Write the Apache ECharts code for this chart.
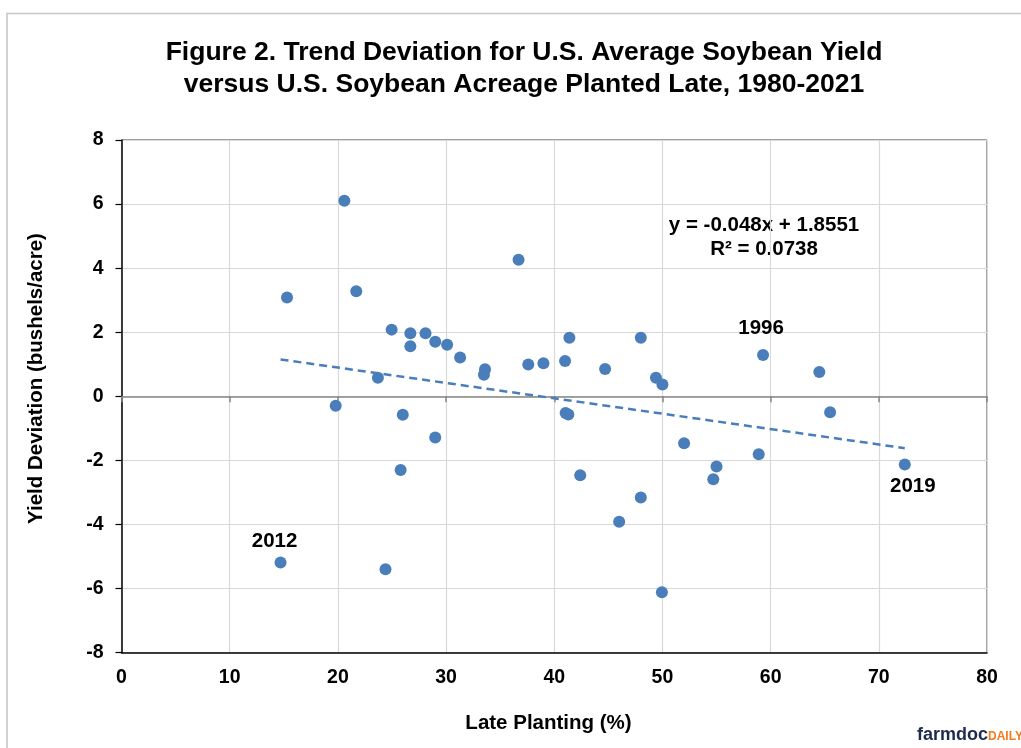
<!DOCTYPE html>
<html>
<head>
<meta charset="utf-8">
<script src="https://cdn.jsdelivr.net/npm/echarts@6/dist/echarts.min.js"></script>
<style>
  html, body { margin: 0; padding: 0; background: #fff; }
  #chart { width: 1021px; height: 748px; }
</style>
</head>
<body>
<div id="chart"></div>
<script>
// late planted share (%) and yield deviation from trend (bu/acre), 1980-2021
// first three points are the labelled years
const yearTags = ['2012', '1996', '2019'];
const lateX = [
  14.7, 59.3, 72.4,
  15.3, 19.8, 20.6, 21.7, 23.7, 24.4, 24.97, 25.8, 26.0, 26.7, 26.7,
  28.1, 29.0, 29.0, 30.1, 31.3, 33.5, 33.6, 36.7, 37.6, 39.0, 41.0,
  41.05, 41.3, 41.4, 42.4, 44.7, 46.0, 48.0, 48.0, 49.4, 49.95, 50.0,
  52.0, 54.7, 55.0, 58.9, 64.5, 65.5
];
const yieldDev = [
  -5.19, 1.29, -2.13,
  3.08, -0.30, 6.10, 3.28, 0.58, -5.40, 2.08, -2.30, -0.58, 1.97, 1.56,
  1.97, 1.70, -1.29, 1.61, 1.21, 0.67, 0.84, 4.26, 0.99, 1.03, 1.10,
  -0.52, -0.57, 1.83, -2.47, 0.85, -3.92, 1.83, -3.16, 0.58, -6.12, 0.37,
  -1.47, -2.59, -2.19, -1.81, 0.76, -0.50
];
// fitted trend end points: y = -0.048x + 1.8551
const trendX = [14.7, 72.4];
const trendY = [1.15, -1.62];

const blue = '#4a7ebb';
const font = '"Liberation Sans", Arial, sans-serif';
const tagOffsets = [[-6, -21], [-2, -27], [8, 22]];

const points = lateX.map((x, i) => {
  const item = { value: [x, yieldDev[i]] };
  if (i < yearTags.length) {
    item.label = {
      show: true,
      position: 'inside',
      offset: tagOffsets[i],
      formatter: yearTags[i],
      color: '#000',
      fontSize: 20.5,
      fontWeight: 'bold',
      fontFamily: font
    };
  }
  return item;
});

const chart = echarts.init(document.getElementById('chart'));
chart.setOption({
  animation: false,
  backgroundColor: '#fff',
  textStyle: { fontFamily: font },
  title: {
    text: 'Figure 2. Trend Deviation for U.S. Average Soybean Yield\nversus U.S. Soybean Acreage Planted Late, 1980-2021',
    left: 519,
    textAlign: 'center',
    top: 32,
    textStyle: { fontSize: 26.5, fontWeight: 'bold', color: '#000', lineHeight: 32, fontFamily: font }
  },
  grid: {
    left: 121.5, right: 34, top: 140, bottom: 95.5,
    show: true, borderColor: '#404040', borderWidth: 1
  },
  xAxis: [
    {
      type: 'value', min: 0, max: 80, interval: 10, position: 'bottom',
      axisLine: { onZero: false, lineStyle: { color: '#000', width: 1.5 } },
      axisTick: { show: false },
      axisLabel: { fontSize: 19.5, fontWeight: 'bold', color: '#000', margin: 15 },
      splitLine: { show: true, lineStyle: { color: '#d9d9d9', width: 1.2 } }
    },
    {
      type: 'value', min: 0, max: 80, interval: 10, position: 'top',
      axisLine: { onZero: true, lineStyle: { color: '#868686', width: 1.5 } },
      axisTick: { show: true, inside: true, length: 6, lineStyle: { color: '#868686', width: 1.5 } },
      axisLabel: { show: false },
      splitLine: { show: false }
    }
  ],
  yAxis: {
    type: 'value', min: -8, max: 8, interval: 2,
    axisLine: { show: true, onZero: false, lineStyle: { color: '#000', width: 1.5 } },
    axisTick: { show: true, length: 6, lineStyle: { color: '#000', width: 1.2 } },
    axisLabel: { fontSize: 19.5, fontWeight: 'bold', color: '#000', margin: 18 },
    splitLine: { show: true, lineStyle: { color: '#d9d9d9', width: 1.2 } }
  },
  series: [
    {
      type: 'line',
      data: trendX.map((x, i) => [x, trendY[i]]),
      symbol: 'none',
      silent: true,
      z: 2,
      lineStyle: { color: blue, width: 2.5, type: [8, 5] }
    },
    {
      type: 'scatter',
      data: points,
      symbolSize: 12,
      z: 3,
      itemStyle: { color: blue, opacity: 1 }
    }
  ],
  graphic: [
    {
      type: 'rect', silent: true, z: -1,
      shape: { x: 7, y: 13.5, width: 1100, height: 800 },
      style: { fill: 'none', stroke: '#c4c4c4', lineWidth: 1.5 }
    },
    {
      type: 'text', x: 36.5, y: 378.5, rotation: Math.PI / 2, silent: true,
      style: {
        text: 'Yield Deviation (bushels/acre)',
        textAlign: 'center', textVerticalAlign: 'middle',
        font: 'bold 20.5px ' + font, fill: '#000'
      }
    },
    {
      type: 'text', x: 548.5, y: 723.5, silent: true,
      style: {
        text: 'Late Planting (%)',
        textAlign: 'center', textVerticalAlign: 'middle',
        font: 'bold 20.5px ' + font, fill: '#000'
      }
    },
    {
      type: 'text', x: 764, y: 213, silent: true,
      style: {
        text: 'y = -0.048x + 1.8551\nR² = 0.0738',
        textAlign: 'center', textVerticalAlign: 'top', lineHeight: 24,
        font: 'bold 20.5px ' + font, fill: '#000'
      }
    },
    {
      type: 'text', x: 917, y: 744, silent: true,
      style: {
        text: 'farmdoc', textAlign: 'left', textVerticalAlign: 'bottom',
        font: 'bold 18px ' + font, fill: '#1e2b4e'
      }
    },
    {
      type: 'text', x: 988, y: 742.5, silent: true,
      style: {
        text: 'DAILY', textAlign: 'left', textVerticalAlign: 'bottom',
        font: 'bold 12px ' + font, fill: '#f47b20'
      }
    }
  ]
});
</script>
</body>
</html>
